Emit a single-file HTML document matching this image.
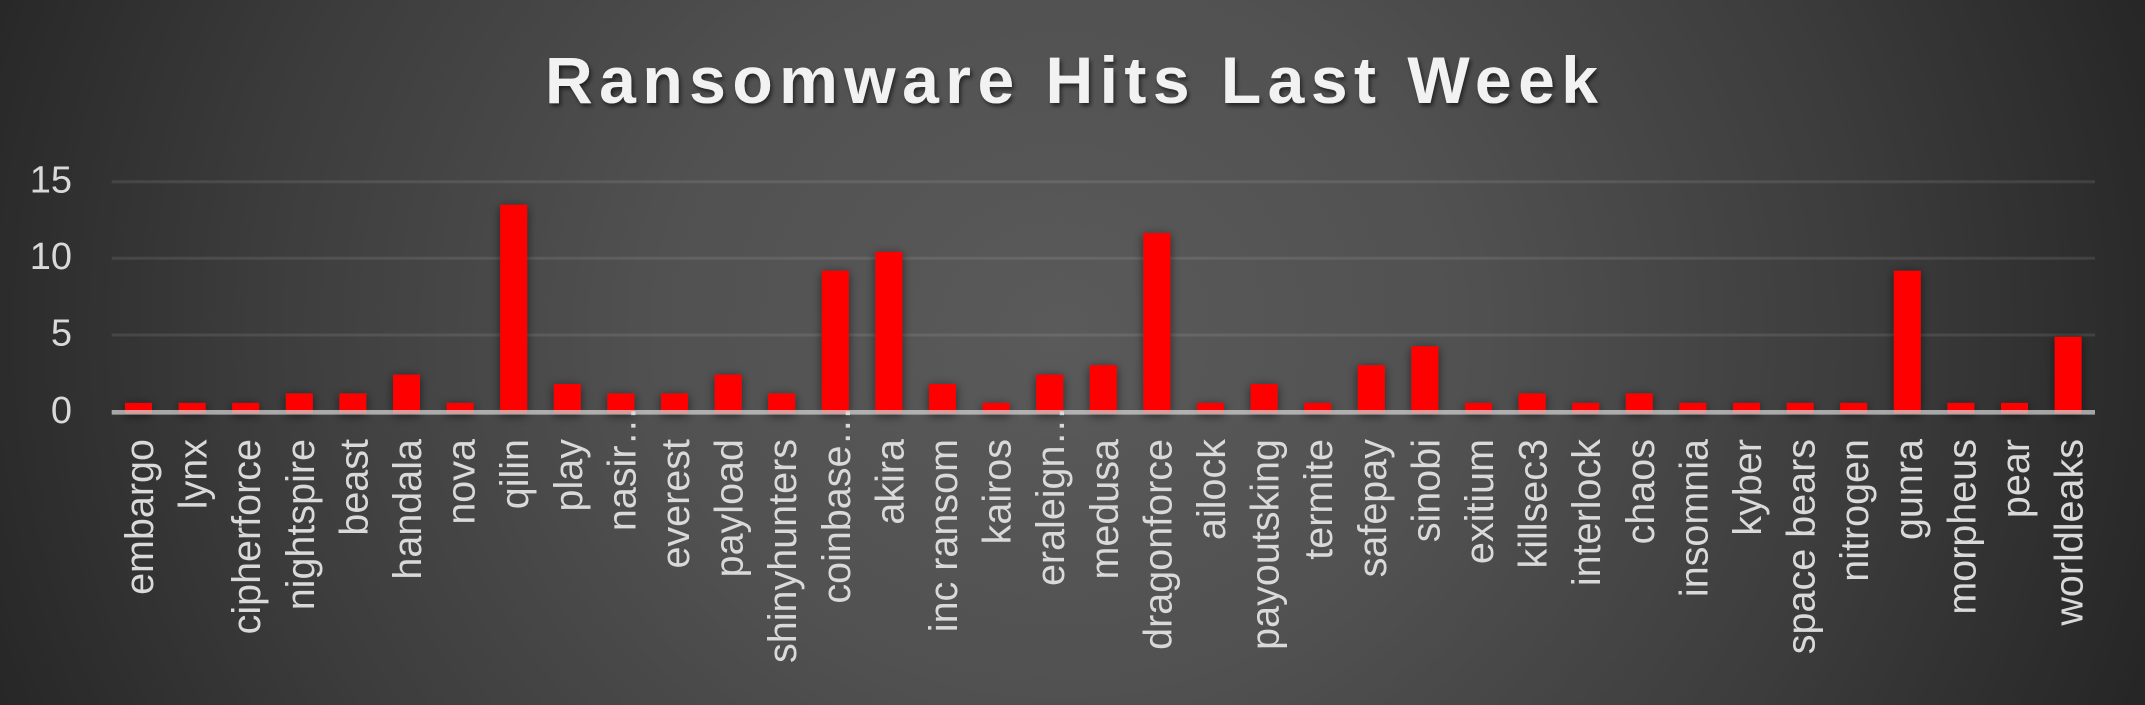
<!DOCTYPE html>
<html>
<head>
<meta charset="utf-8">
<style>
html,body{margin:0;padding:0;background:#3a3a3a;}
svg{display:block;}
</style>
</head>
<body>
<svg xmlns="http://www.w3.org/2000/svg" width="2145" height="705" viewBox="0 0 2145 705">
<defs>
<radialGradient id="bg" gradientUnits="userSpaceOnUse" cx="1060" cy="330" r="1150" gradientTransform="translate(1060 330) scale(1 0.9) translate(-1060 -330)">
<stop offset="0" stop-color="#5a5a5a"/>
<stop offset="0.35" stop-color="#515151"/>
<stop offset="0.7" stop-color="#3c3c3c"/>
<stop offset="1" stop-color="#262626"/>
</radialGradient>
<filter id="bs" x="-60%" y="-20%" width="220%" height="140%">
<feDropShadow dx="0" dy="2" stdDeviation="5" flood-color="#000" flood-opacity="0.55"/>
</filter>
<filter id="ts" x="-5%" y="-30%" width="110%" height="160%">
<feDropShadow dx="2" dy="3" stdDeviation="2" flood-color="#000" flood-opacity="0.55"/>
</filter>
</defs>
<rect x="0" y="0" width="2145" height="705" fill="url(#bg)"/>

<text x="545" y="103" font-family="Liberation Sans, sans-serif" font-weight="bold" font-size="66" fill="#f2f2f2" textLength="1053" lengthAdjust="spacing" filter="url(#ts)">Ransomware Hits Last Week</text>

<g stroke="#d9d9d9" stroke-opacity="0.12" stroke-width="3">
<line x1="111.7" y1="181.7" x2="2095" y2="181.7"/>
<line x1="111.7" y1="258.3" x2="2095" y2="258.3"/>
<line x1="111.7" y1="335" x2="2095" y2="335"/>
</g>

<g font-family="Liberation Sans, sans-serif" font-size="38" fill="#d9d9d9" text-anchor="end">
<text x="72" y="192.3">15</text>
<text x="72" y="269">10</text>
<text x="72" y="345.7">5</text>
<text x="72" y="423">0</text>
</g>

<g id="bars" fill="#ff0000" filter="url(#bs)"></g>
<line x1="111.7" y1="412.3" x2="2095" y2="412.3" stroke="#d9d9d9" stroke-opacity="0.7" stroke-width="4.7"/>
<g id="labels" font-family="Liberation Sans, sans-serif" font-size="39.5" fill="#d9d9d9" text-anchor="end"></g>
</svg>
<script>
(function(){
var data=[["embargo",1],["lynx",1],["cipherforce",1],["nightspire",2],["beast",2],["handala",4],["nova",1],["qilin",22],["play",3],["nasir…",2],["everest",2],["payload",4],["shinyhunters",2],["coinbase…",15],["akira",17],["inc ransom",3],["kairos",1],["eraleign…",4],["medusa",5],["dragonforce",19],["ailock",1],["payoutsking",3],["termite",1],["safepay",5],["sinobi",7],["exitium",1],["killsec3",2],["interlock",1],["chaos",2],["insomnia",1],["kyber",1],["space bears",1],["nitrogen",1],["gunra",15],["morpheus",1],["pear",1],["worldleaks",8]];
var ns="http://www.w3.org/2000/svg";
var bars=document.getElementById("bars"),labels=document.getElementById("labels");
var left=111.7,cw=53.6,hp=9.44,axis=412.3;
for(var i=0;i<data.length;i++){
var cx=left+cw*(i+0.5);
var top=axis-data[i][1]*hp;
var r=document.createElementNS(ns,"rect");
r.setAttribute("x",(cx-13.5).toFixed(2));
r.setAttribute("y",top.toFixed(2));
r.setAttribute("width","27");
r.setAttribute("height",(413.5-top).toFixed(2));
bars.appendChild(r);
var t=document.createElementNS(ns,"text");
var trunc=data[i][0].indexOf("…")>=0;
var ty=trunc?406:439;
t.setAttribute("transform","translate("+(cx+14.5).toFixed(2)+" "+ty+") rotate(-90)");
t.textContent=data[i][0];
labels.appendChild(t);
}
})();
</script>
</body>
</html>
